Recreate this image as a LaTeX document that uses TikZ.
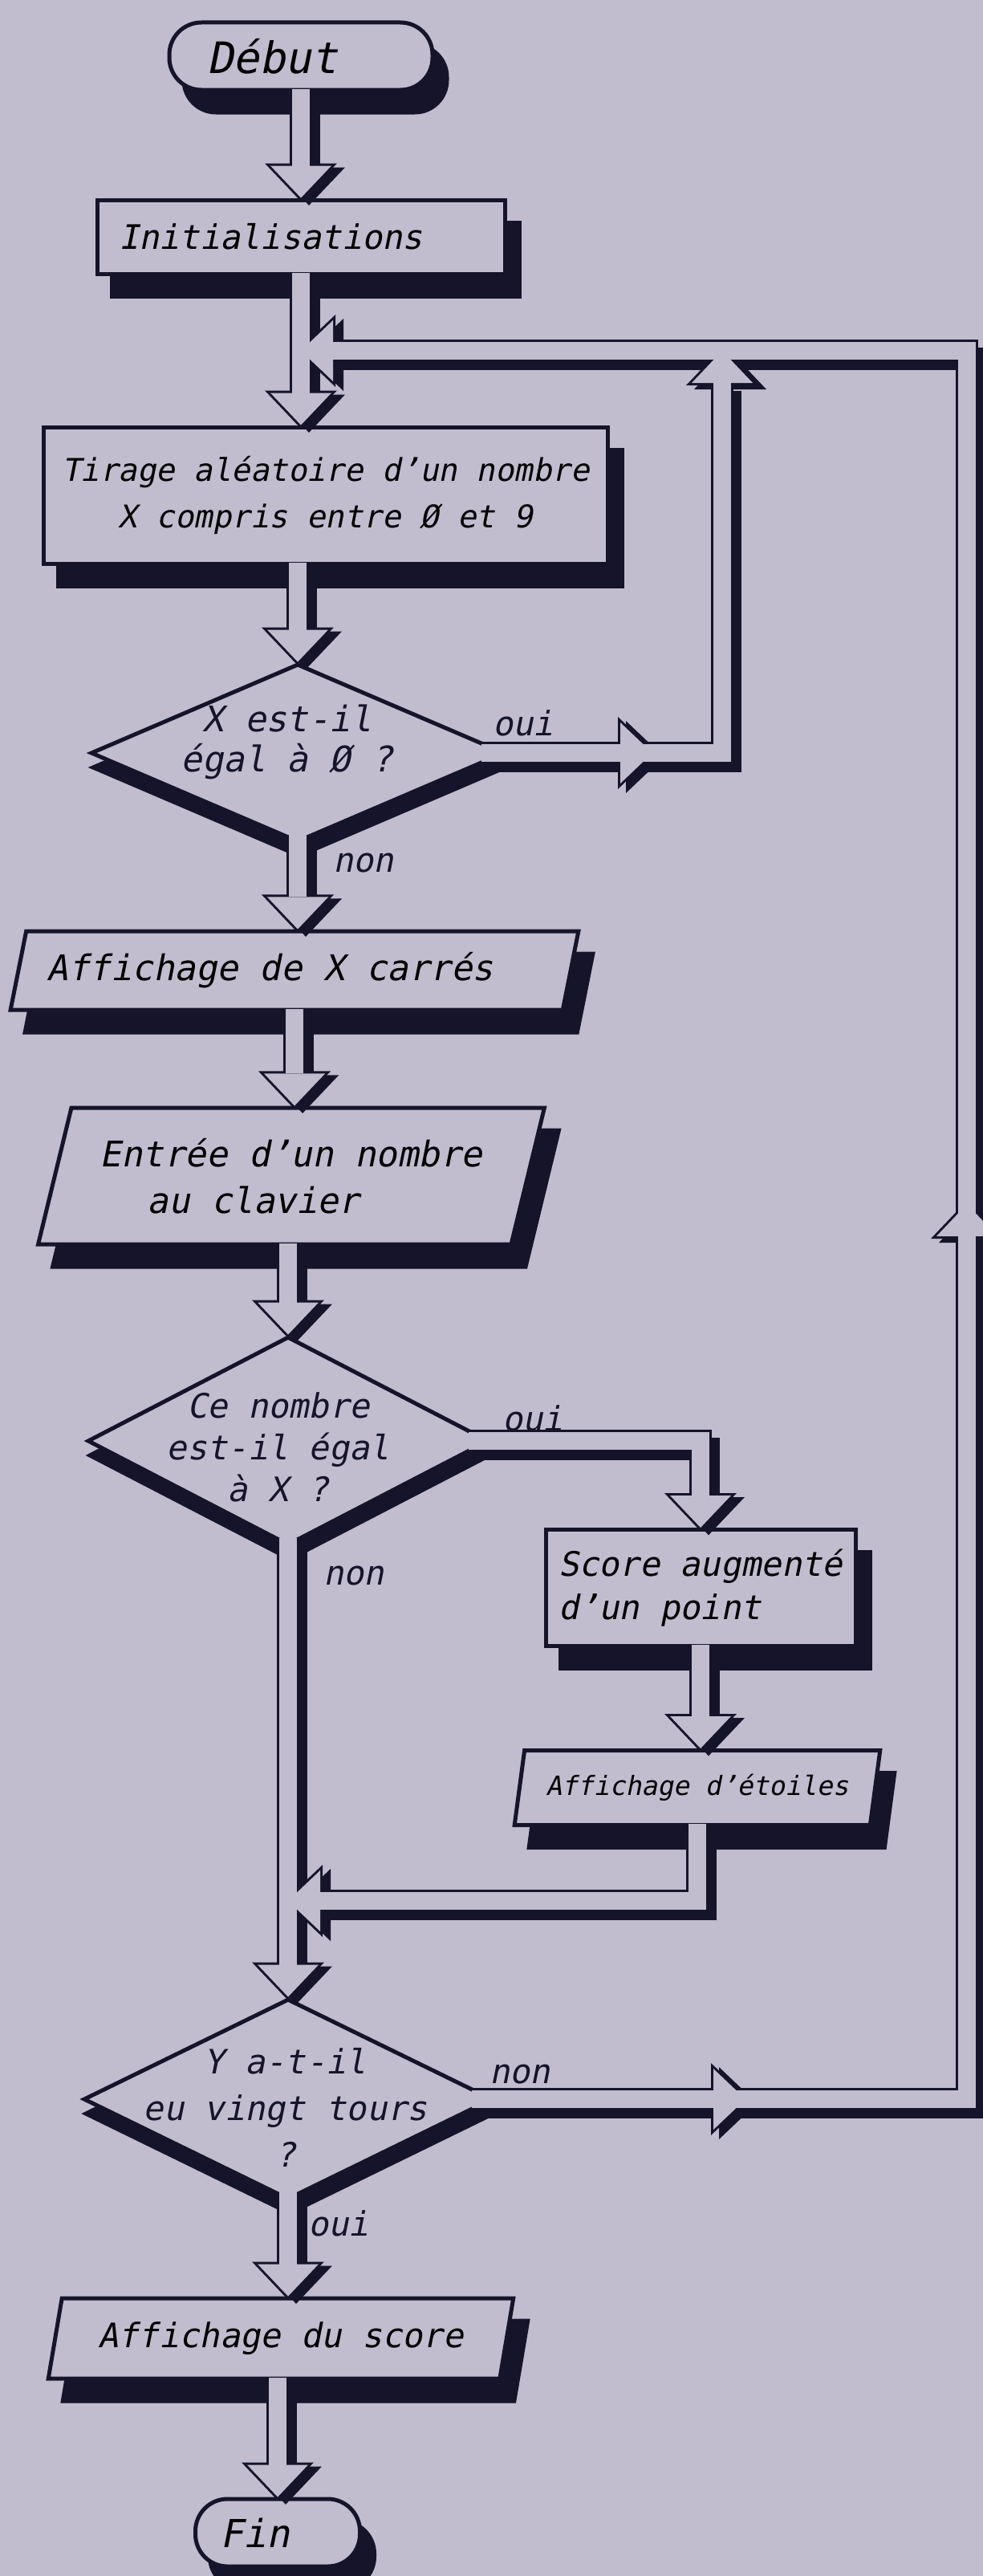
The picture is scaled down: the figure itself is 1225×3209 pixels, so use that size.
\documentclass[tikz,border=0pt]{standalone}
\usepackage{fontspec}
\newfontfamily\lettr{DejaVu Sans Mono}[FakeSlant=0.2]
\usetikzlibrary{calc,shapes.geometric,shadows}
\definecolor{bg}{RGB}{193,189,207}
\definecolor{ink}{RGB}{22,20,42}
\pgfdeclarelayer{ps}\pgfdeclarelayer{po}\pgfdeclarelayer{pi}
\pgfsetlayers{main,ps,po,pi}
\tikzset{
  pshad/.style={draw=ink, line width=28pt, transform canvas={shift={(10pt,-10pt)}}},
  pout/.style={draw=ink, line width=28pt},
  pin/.style={draw=bg, line width=22pt},
  ashad/.style={fill=ink, draw=ink, line width=6pt, transform canvas={shift={(10pt,-5pt)}}},
  aout/.style={fill=ink, draw=ink, line width=6pt},
  base/.style={draw=ink, fill=bg, line width=5pt, inner sep=0pt,
    font=\lettr\fontsize{42}{56}\selectfont},
  shad/.style={drop shadow={shadow xshift=18pt, shadow yshift=-28pt, fill=ink, draw=ink, opacity=1}},
  rect/.style={base, shad, rectangle},
  term/.style={base, shad, rectangle, rounded corners=40pt},
  para/.style={base, shad, trapezium, trapezium stretches=true},
  dia/.style={base, diamond, drop shadow={shadow xshift=2pt, shadow yshift=-18pt, fill=ink, draw=ink, opacity=1}},
  txt/.style={inner sep=0pt, text=ink, font=\lettr\fontsize{42}{56}\selectfont},
}
\newcommand\pipe[1]{%
  \begin{pgfonlayer}{ps}\draw[pshad] #1;\end{pgfonlayer}%
  \begin{pgfonlayer}{po}\draw[pout] #1;\end{pgfonlayer}%
  \begin{pgfonlayer}{pi}\draw[pin] #1;\end{pgfonlayer}}
\newcommand\ahead[3]{%
  \begin{pgfonlayer}{ps}\filldraw[ashad] (#1) -- ($(#1)+(#2)$) -- ($(#1)+(#3)$) -- cycle;\end{pgfonlayer}%
  \begin{pgfonlayer}{po}\filldraw[aout] (#1) -- ($(#1)+(#2)$) -- ($(#1)+(#3)$) -- cycle;\end{pgfonlayer}%
  \begin{pgfonlayer}{pi}\fill[bg] (#1) -- ($(#1)+(#2)$) -- ($(#1)+(#3)$) -- cycle;\end{pgfonlayer}}
\newcommand\adown[1]{\ahead{#1}{-38,-40}{38,-40}}
\newcommand\aup[1]{\ahead{#1}{-38,40}{38,40}}
\newcommand\aleft[1]{\ahead{#1}{40,-38}{40,38}}
\newcommand\aright[1]{\ahead{#1}{-40,-38}{-40,38}}
\begin{document}
\begin{tikzpicture}[x=1pt,y=-1pt]
\fill[bg] (0,0) rectangle (1225,3209);
\useasboundingbox (0,0) rectangle (1225,3209);

% ---------- nodes ----------
\node[term, minimum width=328pt, minimum height=84pt, text width=234pt, inner xsep=47pt, align=left,
      font=\lettr\fontsize{54}{56}\selectfont] (debut) at (375,70) {Début};
\node[rect, minimum width=508pt, minimum height=92pt, text width=454pt, inner xsep=27pt, align=left]
      (init) at (375,295) {Initialisations};
\node[rect, minimum width=703pt, minimum height=170pt, align=center,
      font=\lettr\fontsize{39}{58}\selectfont] (tirage) at (406,617)
      {Tirage aléatoire d’un nombre\\X compris entre Ø et 9};
\node[dia, minimum width=516pt, minimum height=222pt] (d1) at (371,938) {};
\node[txt, align=center, font=\lettr\fontsize{44}{50}\selectfont] (d1t) at (358,924) {X est-il\\égal à Ø ?};
\node[para, trapezium left angle=68, trapezium right angle=112, minimum width=711pt, minimum height=98pt,
      font=\lettr\fontsize{44}{56}\selectfont] (aff1) at (367,1209) {Affichage de X carrés\hspace*{60pt}};
\node[para, trapezium left angle=69, trapezium right angle=111, minimum width=633pt, minimum height=170pt,
      align=left, font=\lettr\fontsize{44}{58}\selectfont] (entree) at (363,1465)
      {Entrée d’un nombre\\\hspace*{59pt}au clavier};
\node[dia, minimum width=500pt, minimum height=260pt] (d2) at (359,1795) {};
\node[txt, align=center, font=\lettr\fontsize{42}{52}\selectfont] (d2t) at (347,1803) {Ce nombre\\est-il égal\\à X ?};
\node[rect, minimum width=386pt, minimum height=145pt, align=left,
      font=\lettr\fontsize{42}{54}\selectfont] (score) at (873,1978) {Score augmenté\\d’un point};
\node[para, trapezium left angle=72, trapezium right angle=108, minimum width=456pt, minimum height=93pt,
      font=\lettr\fontsize{33}{40}\selectfont] (etoiles) at (869,2227) {Affichage d’étoiles};
\node[dia, minimum width=510pt, minimum height=250pt] (d3) at (359,2615) {};
\node[txt, align=center, font=\lettr\fontsize{42}{58}\selectfont] (d3t) at (356,2625) {Y a-t-il\\eu vingt tours\\?};
\node[para, trapezium left angle=71, trapezium right angle=109, minimum width=582pt, minimum height=100pt]
      (affscore) at (350,2913) {Affichage du score};
\node[term, minimum width=205pt, minimum height=84pt, text width=143pt, inner xsep=31pt, align=left,
      font=\lettr\fontsize{48}{56}\selectfont] (fin) at (346,3155) {Fin};

% ---------- labels ----------
\node[txt] (oui1) at (652,901) {oui};
\node[txt] (non1) at (453,1075) {non};
\node[txt] (oui2) at (664,1767) {oui};
\node[txt] (non2) at (441,1963) {non};
\node[txt] (non3) at (648,2584) {non};
\node[txt] (oui3) at (422,2770) {oui};

% ---------- helper coordinates ----------
\coordinate (jtop) at (375,437);
\coordinate (rc) at (1205,0);
\coordinate (ic) at (900,0);
\coordinate (ia) at (813,0);
\coordinate (oa) at (929,0);
\coordinate (ua) at (0,1500);
\coordinate (yret) at (0,2368);

% ---------- connectors ----------
\pipe{($(debut.south)+(0,-4)$) -- ($(init.north)+(0,-40)$)}
\adown{init.north}

\pipe{($(init.south)+(0,-4)$) -- ($(init.south |- tirage.north)+(0,-40)$)}
\adown{init.south |- tirage.north}

\pipe{($(tirage.south -| d1.north)+(0,-4)$) -- ($(d1.north)+(0,-40)$)}
\adown{d1.north}

\pipe{($(d1.south)+(0,-12)$) -- ($(d1.south |- aff1.north)+(0,-40)$)}
\adown{d1.south |- aff1.north}

\pipe{($(d1.east)+(-32,0)$) -- (d1.east -| ic) -- ($(ic |- jtop)+(0,40)$)}
\aright{d1.east -| ia}
\aup{ic |- jtop}

\pipe{($(d3.east)+(-29,0)$) -- (d3.east -| rc) -- (rc |- jtop) -- ($(jtop)+(40,0)$)}
\aright{d3.east -| oa}
\aup{rc |- ua}
\aleft{jtop}

\pipe{($(aff1.south)+(0,-4)$) -- ($(aff1.south |- entree.north)+(0,-40)$)}
\adown{aff1.south |- entree.north}

\pipe{($(entree.south -| d2.north)+(0,-4)$) -- ($(d2.north)+(0,-40)$)}
\adown{d2.north}

\pipe{($(d2.east)+(-28,0)$) -- (d2.east -| score.north) -- ($(score.north)+(0,-40)$)}
\adown{score.north}

\pipe{($(score.south)+(0,-4)$) -- ($(score.south |- etoiles.north)+(0,-40)$)}
\adown{score.south |- etoiles.north}

\pipe{($(etoiles.south)+(0,-4)$) -- (etoiles.south |- yret) -- ($(d2.south |- yret)+(40,0)$)}
\aleft{d2.south |- yret}

\pipe{($(d2.south)+(0,-12)$) -- ($(d3.north)+(0,-40)$)}
\adown{d3.north}

\pipe{($(d3.south)+(0,-12)$) -- ($(d3.south |- affscore.north)+(0,-40)$)}
\adown{d3.south |- affscore.north}

\pipe{($(affscore.south -| fin.north)+(0,-4)$) -- ($(fin.north)+(0,-40)$)}
\adown{fin.north}
\end{tikzpicture}
\end{document}
